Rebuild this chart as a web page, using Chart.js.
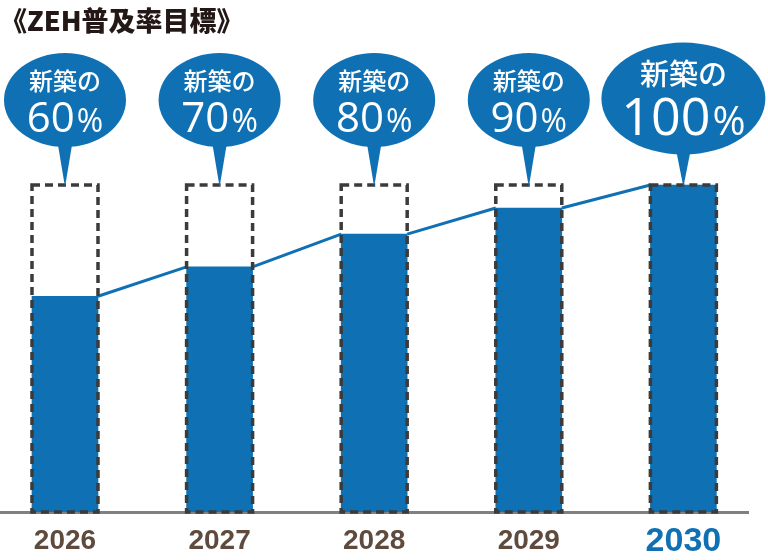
<!DOCTYPE html>
<html lang="ja">
<head>
<meta charset="utf-8">
<title>ZEH普及率目標</title>
<script src="https://cdn.jsdelivr.net/npm/chart.js@4.4.1/dist/chart.umd.min.js"></script>
<style>
  html, body { margin: 0; padding: 0; background: #fff; }
  #wrap { width: 768px; height: 560px; }
</style>
</head>
<body>
<div id="wrap"><canvas id="zehChart" width="768" height="560"></canvas></div>
<script>
// データ
const years = ['2026', '2027', '2028', '2029', '2030'];
const targetPercents = [60, 70, 80, 90, 100];   // 吹き出しの数値
const barHeights = [66, 75, 85, 93, 100];       // 棒の高さ(点線枠 = 100)
const frameValues = [100, 100, 100, 100, 100];  // 点線枠
const calloutPrefix = '新築の';
const titleText = '《ZEH普及率目標》';

const BLUE = '#0f71b4';
const FRAME = '#3b3b3b';
const BROWN = '#5e4b3e';

function drawCallout(ctx, x, tipY, big, pct) {
    const rx = big ? 82 : 61;
    const ry = big ? 56 : 47;
    const cy = tipY - (big ? 86.5 : 85);

    ctx.fillStyle = BLUE;
    ctx.beginPath();
    ctx.ellipse(x, cy, rx, ry, 0, 0, Math.PI * 2);
    ctx.fill();

    // しっぽ
    ctx.beginPath();
    ctx.moveTo(x - 8, cy + ry - 8);
    ctx.lineTo(x + 8, cy + ry - 8);
    ctx.lineTo(x, tipY + 2);
    ctx.closePath();
    ctx.fill();

    ctx.fillStyle = '#ffffff';
    ctx.textAlign = 'center';
    ctx.textBaseline = 'middle';
    ctx.font = `500 ${big ? 29 : 24}px "Noto Sans CJK JP"`;
    ctx.fillText(calloutPrefix, x, cy - (big ? 25 : 19));

    // 数値 + %
    const numText = String(pct);
    const numFont = `400 ${big ? 52 : 42}px "Open Sans"`;
    const pctFont = `400 ${big ? 40 : 32}px "Open Sans"`;
    ctx.font = numFont;
    const numW = ctx.measureText(numText).width;
    ctx.font = pctFont;
    const pctW = ctx.measureText('%').width;
    const gap = 2;
    const startX = x - (numW + gap + pctW) / 2;
    const baseY = cy + (big ? 36.5 : 32);
    ctx.textAlign = 'left';
    ctx.textBaseline = 'alphabetic';
    ctx.font = numFont;
    ctx.fillText(numText, startX, baseY);
    ctx.font = pctFont;
    ctx.fillText('%', startX + numW + gap, baseY);
}

const zehDecor = {
    id: 'zehDecor',
    afterDatasetsDraw(chart) {
        const ctx = chart.ctx;
        const bars = chart.getDatasetMeta(0).data;
        const frames = chart.getDatasetMeta(1).data;
        ctx.save();

        // 棒の上端をつなぐ線
        ctx.strokeStyle = BLUE;
        ctx.lineWidth = 3;
        ctx.beginPath();
        for (let i = 0; i < bars.length - 1; i++) {
            const a = bars[i];
            const b = bars[i + 1];
            ctx.moveTo(a.x + a.width / 2, a.y);
            ctx.lineTo(b.x - b.width / 2, b.y);
        }
        ctx.stroke();

        // 点線枠
        ctx.strokeStyle = FRAME;
        ctx.lineWidth = 3.5;
        ctx.setLineDash([8, 5]);
        frames.forEach(f => {
            ctx.strokeRect(f.x - f.width / 2, f.y, f.width, f.base - f.y);
        });
        ctx.setLineDash([]);

        // 吹き出し
        frames.forEach((f, i) => {
            drawCallout(ctx, f.x, f.y, i === frames.length - 1, targetPercents[i]);
        });
        ctx.restore();
    }
};

const lastIndex = years.length - 1;

new Chart(document.getElementById('zehChart'), {
    type: 'bar',
    data: {
        datasets: [
            {
                label: '実績',
                data: barHeights.map((v, i) => ({ x: i, y: v })),
                backgroundColor: BLUE,
                borderWidth: 0,
                barThickness: 66,
                grouped: false
            },
            {
                label: '目標',
                data: frameValues.map((v, i) => ({ x: i, y: v })),
                backgroundColor: 'rgba(0,0,0,0)',
                borderWidth: 0,
                barThickness: 66,
                grouped: false
            }
        ]
    },
    options: {
        responsive: false,
        animation: false,
        devicePixelRatio: 1,
        layout: { padding: { left: 0, right: 20, top: 0, bottom: 0 } },
        scales: {
            x: {
                type: 'linear',
                offset: false,
                min: -0.4204,
                max: 4.418,
                grid: { display: false, drawTicks: false },
                border: { display: true, color: '#808080', width: 3 },
                afterFit: scale => { scale.height = 48; },
                ticks: {
                    stepSize: 1,
                    includeBounds: false,
                    autoSkip: false,
                    maxRotation: 0,
                    minRotation: 0,
                    padding: 12.5,
                    callback: v => (Number.isInteger(v) && years[v]) ? years[v] : '',
                    color: c => (c.tick && c.tick.value === lastIndex) ? BLUE : BROWN,
                    font: c => (c.tick && c.tick.value === lastIndex)
                        ? { family: '"Liberation Sans", Arial, sans-serif', size: 34, weight: 'bold', lineHeight: 0.988 }
                        : { family: '"Liberation Sans", Arial, sans-serif', size: 28, weight: 'bold', lineHeight: 1.2 }
                }
            },
            y: {
                display: false,
                min: 0,
                max: 145.5
            }
        },
        plugins: {
            legend: { display: false },
            tooltip: { enabled: false },
            title: {
                display: true,
                text: titleText,
                align: 'start',
                color: '#231815',
                font: { family: '"Noto Sans CJK JP"', size: 27, weight: 900, lineHeight: 1.16 },
                padding: { top: 5, bottom: 0 }
            }
        }
    },
    plugins: [zehDecor]
});
</script>
</body>
</html>
